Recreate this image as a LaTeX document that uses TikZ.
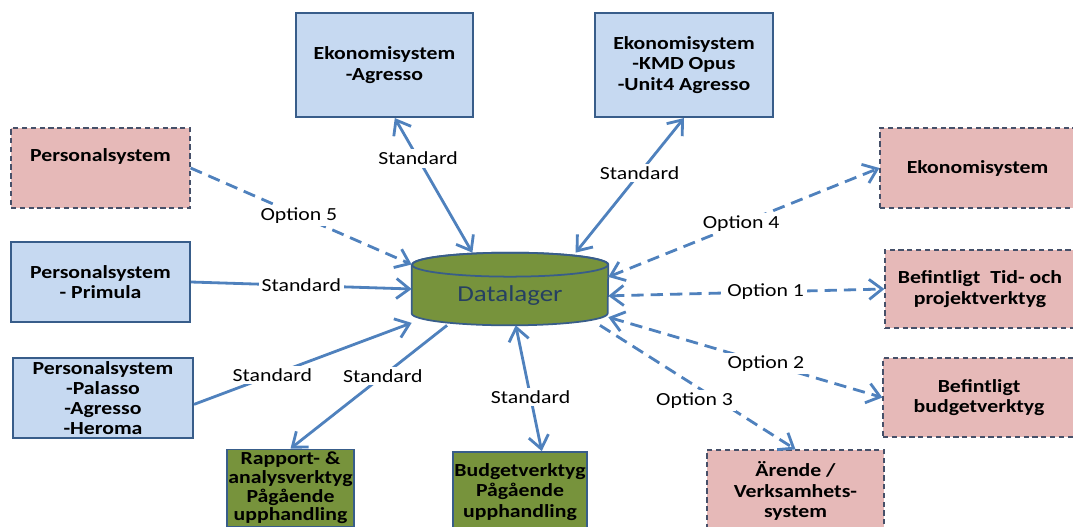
\documentclass[tikz,border=0pt]{standalone}
\usepackage{fontspec}
\setmainfont{Carlito}[FakeStretch=1.18]
\usetikzlibrary{arrows.meta}

\definecolor{boxblue}{RGB}{198,217,241}
\definecolor{boxline}{RGB}{56,93,138}
\definecolor{boxpink}{RGB}{230,185,184}
\definecolor{pinkline}{RGB}{70,80,105}
\definecolor{boxgreen}{RGB}{119,147,60}
\definecolor{arrowblue}{RGB}{79,129,189}
\definecolor{dbtext}{RGB}{38,64,97}

\newcommand{\bxfont}{\fontsize{10.5}{11.5}\selectfont\bfseries}
\newcommand{\lblfont}{\fontsize{10.5}{12}\selectfont}

\begin{document}
\begin{tikzpicture}[x=0.02cm,y=-0.02cm,
    bluebox/.style={draw=boxline,fill=boxblue,line width=1.2pt,align=center,font=\bxfont,inner sep=1pt},
    pinkbox/.style={draw=pinkline,fill=boxpink,line width=0.7pt,densely dashed,align=center,font=\bxfont,inner sep=1pt},
    greenbox/.style={draw=boxline,fill=boxgreen,line width=1pt,align=center,font=\bxfont,inner sep=1pt},
    stdline/.style={draw=arrowblue,line width=1.6pt,>={Straight Barb[length=2.6mm,width=4mm]}},
    optline/.style={stdline,dash pattern=on 7pt off 4pt},
    lbl/.style={fill=white,font=\lblfont,inner sep=1.5pt}]

    \useasboundingbox (0,0) rectangle (1073,527);
    \clip (0,0) rectangle (1073,527);

    \node[bluebox,minimum width=3.54cm,minimum height=2.08cm] (ekoagr) at (384.5,65) {Ekonomisystem\\-Agresso};
    \node[bluebox,minimum width=3.56cm,minimum height=2.08cm] (ekokmd) at (684,65) {Ekonomisystem\\-KMD Opus\\-Unit4 Agresso};
    \node[pinkbox,minimum width=3.58cm,minimum height=1.6cm] (pers5) at (100.5,168) {Personalsystem\\\strut};
    \node[bluebox,minimum width=3.58cm,minimum height=1.6cm] (primula) at (100.5,282) {Personalsystem\\- Primula};
    \node[bluebox,minimum width=3.6cm,minimum height=1.6cm] (palasso) at (103,398) {Personalsystem\\-Palasso\\-Agresso\\-Heroma};
    \node[pinkbox,minimum width=3.9cm,minimum height=1.6cm] (eko4) at (977.5,168) {Ekonomisystem};
    \node[pinkbox,minimum width=3.8cm,minimum height=1.56cm] (tid) at (980,289) {Befintligt~ Tid- och\\projektverktyg};
    \node[pinkbox,minimum width=3.84cm,minimum height=1.58cm] (budg) at (979,397.5) {Befintligt\\budgetverktyg};
    \node[pinkbox,minimum width=3.54cm,minimum height=1.64cm] (arende) at (795.5,491) {Ärende /\\Verksamhets-\\system};
    \node[greenbox,minimum width=2.5cm,minimum height=1.54cm,font=\fontsize{10.5}{10.6}\selectfont\bfseries] (rapport) at (290.5,488) {Rapport- \&\\analysverktyg\\Pågående\\upphandling};
    \node[greenbox,minimum width=2.68cm,minimum height=1.6cm] (budgv) at (520,492) {Budgetverktyg\\Pågående\\upphandling};

    \node[minimum width=3.92cm,minimum height=1.44cm,inner sep=0pt] (dl) at (510,289) {};
    \draw[fill=boxgreen,draw=boxline,line width=1pt]
        ([yshift=-0.24cm]dl.north west) -- ([yshift=0.24cm]dl.south west)
        arc[start angle=180,end angle=360,x radius=1.96cm,y radius=0.24cm]
        -- ([yshift=-0.24cm]dl.north east)
        arc[start angle=0,end angle=180,x radius=1.96cm,y radius=0.24cm] -- cycle;
    \draw[draw=boxline,line width=1pt] ([yshift=-0.24cm]dl.north) ellipse[x radius=1.96cm,y radius=0.24cm];
    \node[font=\fontsize{13}{15}\selectfont,text=dbtext] (dltext) at ([yshift=-0.14cm]dl.center) {Datalager};

    \draw[stdline,<->] (ekoagr.281) -- (dl.136) node[lbl,pos=.3] (s1) {Standard};
    \draw[stdline,<->] (ekokmd.south) -- (dl.29) node[lbl,pos=.41] (s2) {Standard};
    \draw[optline,->] (pers5.east) -- (dl.166) node[lbl,pos=.49] (o5) {Option 5};
    \draw[stdline,->] (primula.east) -- (dl.west) node[lbl,pos=.5] (s3) {Standard};
    \draw[stdline,->] (palasso.-4) -- (dl.199) node[lbl,pos=.36] (s4) {Standard};
    \draw[stdline,->] (dl.210) -- (rapport.north) node[lbl,pos=.41] (s5) {Standard};
    \draw[stdline,<->] (dl.279) -- (budgv.62) node[lbl,pos=.57] (s6) {Standard};
    \draw[optline,->] (dl.-22) -- (arende.north) node[lbl,pos=.52,yshift=-6pt,xshift=-4pt] (o3) {Option 3};
    \draw[optline,<->] (dl.-16) -- (budg.west) node[lbl,pos=.575] (o2) {Option 2};
    \draw[optline,<->] (dl.-4) -- (tid.west) node[lbl,pos=.57] (o1) {Option 1};
    \draw[optline,<->] (dl.7) -- (eko4.west) node[lbl,pos=.49] (o4) {Option 4};
\end{tikzpicture}
\end{document}
